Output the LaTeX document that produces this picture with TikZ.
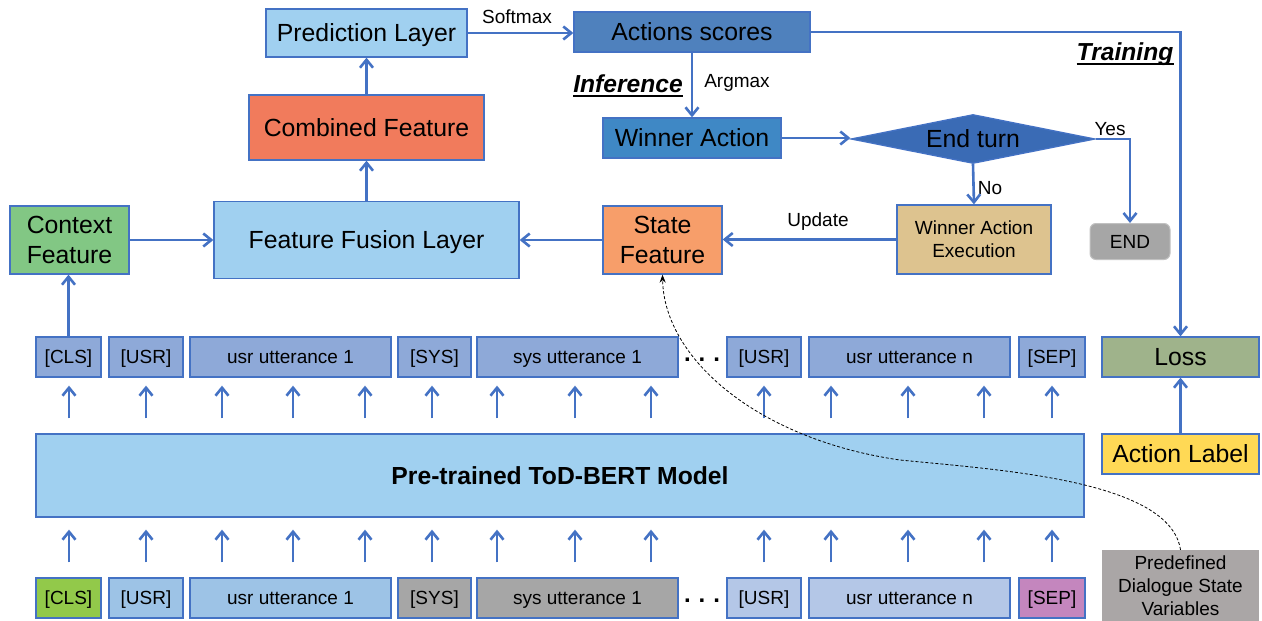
\documentclass[tikz,border=0pt]{standalone}
\usepackage{fontspec}
\setmainfont{Liberation Sans}
\usetikzlibrary{arrows.meta,shapes.geometric}
\definecolor{edgeblue}{RGB}{68,114,196}
\definecolor{lightblue}{RGB}{160,208,240}
\definecolor{scoreblue}{RGB}{79,129,189}
\definecolor{combred}{RGB}{241,123,92}
\definecolor{ctxgreen}{RGB}{130,199,132}
\definecolor{stateorange}{RGB}{247,158,106}
\definecolor{winblue}{RGB}{63,136,197}
\definecolor{diamblue}{RGB}{58,107,181}
\definecolor{waetan}{RGB}{221,195,143}
\definecolor{endgrey}{RGB}{166,166,166}
\definecolor{lossgreen}{RGB}{159,179,139}
\definecolor{labelyellow}{RGB}{255,217,85}
\definecolor{predefgrey}{RGB}{170,166,166}
\definecolor{tokblue}{RGB}{142,169,216}
\definecolor{clsgreen}{RGB}{146,201,74}
\definecolor{usrblue}{RGB}{157,195,230}
\definecolor{sysgrey}{RGB}{166,166,166}
\definecolor{usrnblue}{RGB}{180,199,231}
\definecolor{seppurple}{RGB}{196,134,190}
\tikzset{
  big/.style={font=\fontsize{24.8}{30}\selectfont},
  bigone/.style={big, text height=17.8pt, text depth=0pt},
  small/.style={font=\fontsize{19}{23}\selectfont},
  smallone/.style={small, text height=13.6pt, text depth=0pt},
  box/.style={draw=edgeblue, line width=1.3pt, inner sep=0pt, align=center},
  arr/.style={draw=edgeblue, line width=2.6pt, -{Straight Barb[length=8pt,width=13pt,line width=2.6pt]}},
  lbl/.style={inner sep=0pt, small},
  tok/.style={box, smallone, minimum height=40pt},
}
\begin{document}
\begin{tikzpicture}[x=1pt,y=-1pt]
\useasboundingbox (0,0) rectangle (1262,621);
% upper part
\node[box,bigone,fill=lightblue,minimum width=201pt,minimum height=48pt] (pred) at (366.5,33) {Prediction Layer};
\node[box,bigone,fill=scoreblue,minimum width=236pt,minimum height=40pt] (scores) at (692,32) {Actions scores};
\node[box,bigone,fill=combred,minimum width=235pt,minimum height=65pt] (comb) at (366.5,127.5) {Combined Feature};
\node[box,big,fill=ctxgreen,minimum width=119pt,minimum height=68pt] (ctx) at (69.5,240) {Context\\Feature};
\node[box,bigone,fill=lightblue,minimum width=305pt,minimum height=77pt] (fusion) at (366.5,240) {Feature Fusion Layer};
\node[box,big,fill=stateorange,minimum width=119pt,minimum height=68pt] (state) at (662.5,240) {State\\Feature};
\node[box,bigone,fill=winblue,minimum width=178pt,minimum height=40pt] (winner) at (692,138) {Winner Action};
\node[box,bigone,fill=diamblue,shape=diamond,aspect=5,minimum width=244pt,minimum height=49pt] (endturn) at (973,139) {End turn};
\node[box,small,fill=waetan,minimum width=154pt,minimum height=69pt] (wae) at (974,239.5) {Winner Action\\Execution};
\node[draw=endgrey!70!white,line width=1pt,fill=endgrey,rounded corners=6pt,smallone,minimum width=80pt,minimum height=36pt,inner sep=0pt] (endn) at (1130,241.5) {END};
\node[box,bigone,fill=lossgreen,minimum width=157pt,minimum height=40pt] (loss) at (1180.5,357) {Loss};
\node[box,bigone,fill=labelyellow,minimum width=157pt,minimum height=40pt] (actlabel) at (1180.5,454) {Action Label};
\node[fill=predefgrey,small,minimum width=157pt,minimum height=71pt,inner sep=0pt,align=center] (predef) at (1180.5,585.5) {Predefined\\Dialogue State\\Variables};
% labels
\node[lbl] (softmax) at (517,17) {Softmax};
\node[lbl] (argmax) at (737,83) {Argmax};
\node[lbl] (update) at (818,222) {Update};
\node[lbl] (yes) at (1110,129) {Yes};
\node[lbl] (no) at (990,188) {No};
\node[inner sep=0pt,anchor=base,font=\fontsize{24.6}{30}\selectfont\bfseries\itshape] (infer) at (628,92) {Inference};
\draw[line width=1.6pt] ([yshift=-4pt]infer.base west) -- ([yshift=-4pt]infer.base east);
\node[inner sep=0pt,anchor=base,font=\fontsize{24.6}{30}\selectfont\bfseries\itshape] (train) at (1125,60) {Training};
\draw[line width=1.6pt] ([yshift=-4pt]train.base west) -- ([yshift=-4pt]train.base east);
% token rows
\node[box,fill=lightblue,minimum width=1048pt,minimum height=83pt,font=\fontsize{24.7}{30}\selectfont\bfseries,text height=17.7pt,text depth=0pt] (bert) at (560,475.5) {Pre-trained ToD-BERT Model};
\begin{scope}[every node/.append style={tok,fill=tokblue}]
\node[minimum width=65pt] (tcls) at (68.5,357) {[CLS]};
\node[minimum width=74pt] (tusra) at (146,357) {[USR]};
\node[minimum width=201pt] (tuua) at (290.5,357) {usr utterance 1};
\node[minimum width=73pt] (tsys) at (434.5,357) {[SYS]};
\node[minimum width=201pt] (tsua) at (577.5,357) {sys utterance 1};
\node[minimum width=74pt] (tusrb) at (764,357) {[USR]};
\node[minimum width=201pt] (tuun) at (909.5,357) {usr utterance n};
\node[minimum width=66pt] (tsep) at (1052,357) {[SEP]};
\end{scope}
\begin{scope}[every node/.append style={tok}]
\node[fill=clsgreen,minimum width=65pt] (bcls) at (68.5,598) {[CLS]};
\node[fill=usrblue,minimum width=74pt] (busra) at (146,598) {[USR]};
\node[fill=usrblue,minimum width=201pt] (buua) at (290.5,598) {usr utterance 1};
\node[fill=sysgrey,minimum width=73pt] (bsys) at (434.5,598) {[SYS]};
\node[fill=sysgrey,minimum width=201pt] (bsua) at (577.5,598) {sys utterance 1};
\node[fill=usrnblue,minimum width=74pt] (busrb) at (764,598) {[USR]};
\node[fill=usrnblue,minimum width=201pt] (buun) at (909.5,598) {usr utterance n};
\node[fill=seppurple,minimum width=66pt] (bsep) at (1052,598) {[SEP]};
\end{scope}
\node[inner sep=0pt,anchor=base,font=\fontsize{24}{30}\selectfont\bfseries] (dotsa) at (702,361) {.\,\,.\,\,.};
\node[inner sep=0pt,anchor=base,font=\fontsize{24}{30}\selectfont\bfseries] (dotsb) at (702,602) {.\,\,.\,\,.};
% token arrows
\foreach \x in {69,146,222,293,365,432,497,575,651,764,831,908,984,1052}{
  \draw[arr] ([yshift=15pt]\x,0 |- bert.north) -- ([yshift=-8pt]\x,0 |- tcls.south);
  \draw[arr] ([yshift=15pt]\x,0 |- bcls.north) -- ([yshift=-12pt]\x,0 |- bert.south);
}
% connectors
\draw[arr] (pred.east) -- (pred.east -| scores.west);
\draw[arr] (comb.north) -- (pred.south);
\draw[arr] (fusion.north) -- (comb.south);
\draw[arr] (ctx.east) -- (ctx.east -| fusion.west);
\draw[arr] (state.west) -- (state.west -| fusion.east);
\draw[arr] (tcls.north) -- (tcls.north |- ctx.south);
\draw[arr] (scores.south) -- (winner.north);
\draw[arr] (winner.east) -- (winner.east -| endturn.west);
\draw[arr] (endturn.south) -- (wae.north);
\draw[arr] (wae.west) -- (wae.west -| state.east);
\draw[arr] (endturn.east) -| (endn.north);
\draw[arr] (scores.east) -| (loss.north);
\draw[arr] (actlabel.north) -- (loss.south);
\draw[densely dashed, line width=0.8pt, -{Stealth[length=8pt,width=6pt]}] (predef.north) .. controls (1170,480) and (1000,470) .. (900,460) .. controls (760,440) and (664,360) .. (state.south);
\end{tikzpicture}
\end{document}
